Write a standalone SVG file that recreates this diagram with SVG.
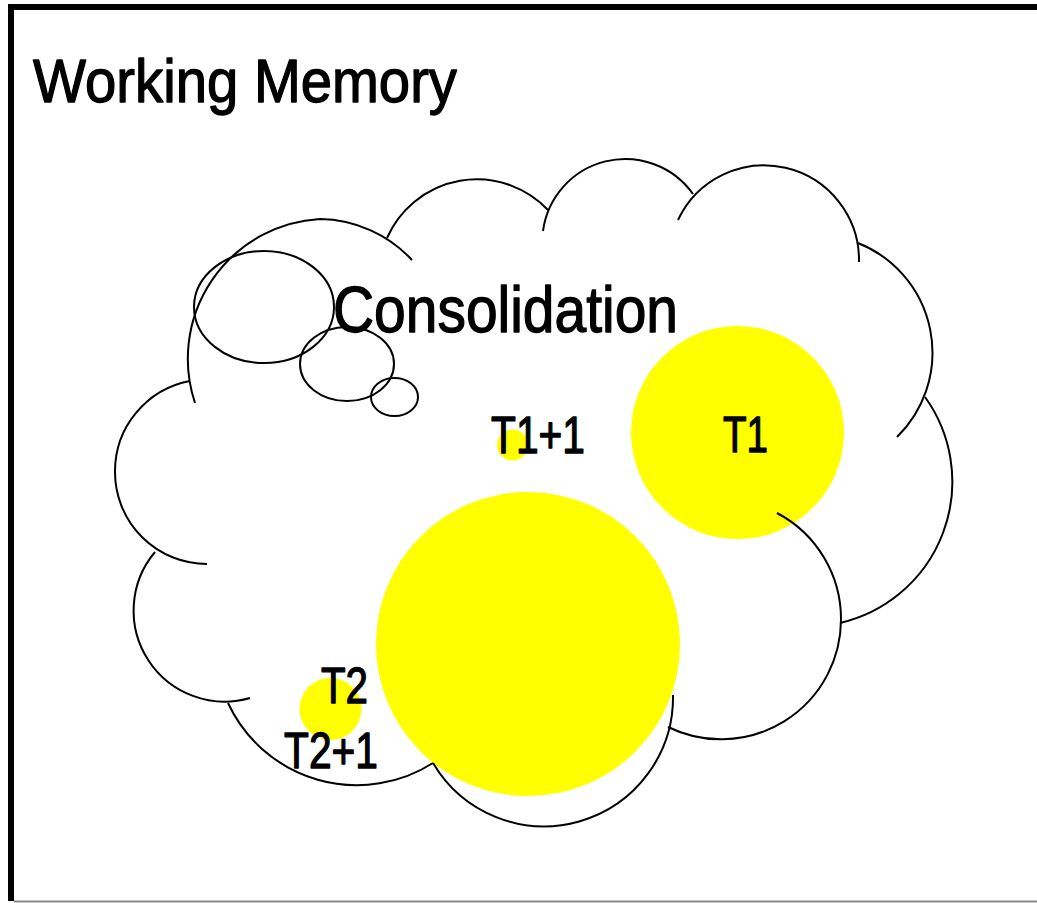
<svg xmlns="http://www.w3.org/2000/svg" width="1037" height="903" viewBox="0 0 1037 903">
  <style>
    .lobe { fill: none; stroke: #000; stroke-width: 2; stroke-linecap: butt; }
    .spot { fill: #ffff00; stroke: none; }
    .lbl { font-family: "Liberation Sans Narrow", "Liberation Sans", Arial, sans-serif; fill: #000; stroke: #000; stroke-width: 1.3; stroke-linejoin: round; }
  </style>
  <rect x="0" y="0" width="1037" height="903" fill="#fff"/>

  <!-- frame -->
  <g id="frame">
    <line x1="11" y1="4" x2="11" y2="901" stroke="#000" stroke-width="6"/>
    <line x1="8" y1="7" x2="1037" y2="7" stroke="#000" stroke-width="6"/>
    <line x1="14" y1="901.5" x2="1037" y2="901.5" stroke="#888" stroke-width="2"/>
  </g>

  <g id="title">
    <text class="lbl" x="33" y="102" font-size="61" textLength="424" lengthAdjust="spacingAndGlyphs">Working Memory</text>
  </g>

  <!-- highlighted regions -->
  <g id="spots">
    <circle id="spot-t1" class="spot" cx="737.5" cy="432.5" r="106.5"/>
    <circle id="spot-main" class="spot" cx="528" cy="644" r="152"/>
    <circle id="spot-t1p1" class="spot" cx="512.5" cy="445" r="15.5"/>
    <circle id="spot-t2" class="spot" cx="330.5" cy="709" r="31"/>
  </g>

  <!-- cloud outline, lobe by lobe, clockwise -->
  <g id="cloud">
    <path class="lobe" d="M250 698 A91 91 0 0 1 155 552"/>
    <path class="lobe" d="M207 564 A92 92 0 0 1 115 472 A92 92 0 0 1 190 381"/>
    <path class="lobe" d="M195 403 A140 140 0 0 1 320 219 A128 128 0 0 1 412 260"/>
    <path class="lobe" d="M387 238 A98 98 0 0 1 548 210"/>
    <path class="lobe" d="M543 231 A83 83 0 0 1 693 194"/>
    <path class="lobe" d="M678 220 A95 95 0 0 1 859 262"/>
    <path class="lobe" d="M858 243 A118 118 0 0 1 897 437"/>
    <path class="lobe" d="M925 397 A145 145 0 0 1 840 623"/>
    <path class="lobe" d="M777 513 A120 120 0 0 1 841 620 A120 120 0 0 1 668 727"/>
    <path class="lobe" d="M673 695 A129 129 0 0 1 433 763"/>
    <path class="lobe" d="M433 763 A142 142 0 0 1 228 703"/>
  </g>

  <!-- thought bubbles -->
  <g id="bubbles">
    <ellipse class="lobe" cx="264" cy="307" rx="70" ry="56"/>
    <ellipse class="lobe" cx="347" cy="364" rx="47" ry="37"/>
    <ellipse class="lobe" cx="394.5" cy="397" rx="23.5" ry="19"/>
  </g>

  <g id="labels">
    <text class="lbl" x="333" y="332" font-size="65" textLength="345" lengthAdjust="spacingAndGlyphs">Consolidation</text>
    <text class="lbl" x="491" y="453" font-size="51" textLength="94" lengthAdjust="spacingAndGlyphs">T1+1</text>
    <text class="lbl" x="723" y="452" font-size="50" textLength="45" lengthAdjust="spacingAndGlyphs">T1</text>
    <text class="lbl" x="321" y="703" font-size="50" textLength="47" lengthAdjust="spacingAndGlyphs">T2</text>
    <text class="lbl" x="284" y="768" font-size="50" textLength="94" lengthAdjust="spacingAndGlyphs">T2+1</text>
  </g>
</svg>
